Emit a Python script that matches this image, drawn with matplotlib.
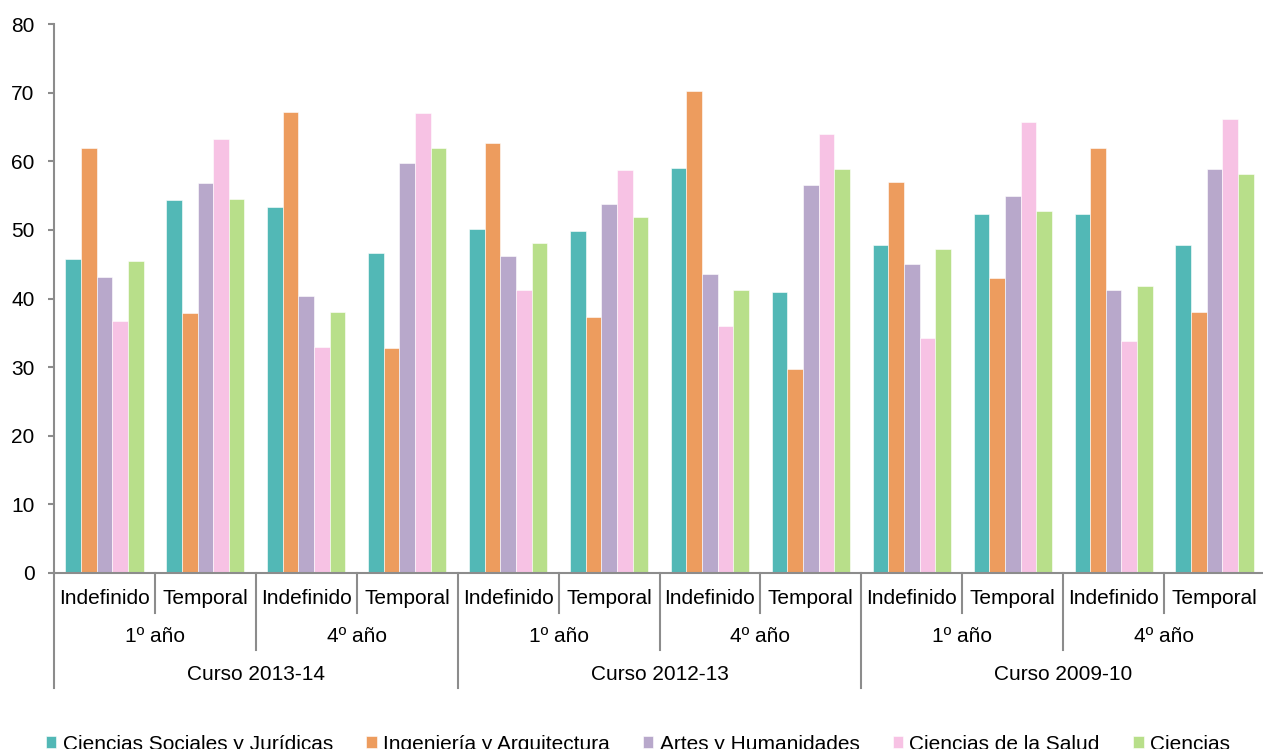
import matplotlib
matplotlib.use("Agg")
import matplotlib.pyplot as plt
import numpy as np

plt.rcParams['font.family'] = ['Liberation Sans', 'DejaVu Sans']
plt.rcParams['font.size'] = 15

# categorias del eje x (tres niveles)
contratos = ["Indefinido", "Temporal"] * 6
anios = ["1º año", "4º año"] * 3
cursos = ["Curso 2013-14", "Curso 2012-13", "Curso 2009-10"]

series = ["Ciencias Sociales y Jurídicas", "Ingeniería y Arquitectura",
          "Artes y Humanidades", "Ciencias de la Salud", "Ciencias"]
colores = ["#52B8B6", "#ED9C5E", "#B8A8CB", "#F7C2E4", "#B8DF8A"]

sociales = [45.8, 54.3, 53.3, 46.7, 50.1, 49.9, 59.0, 41.0, 47.8, 52.3, 52.3, 47.8]
ingenieria = [62.0, 37.9, 67.2, 32.8, 62.7, 37.3, 70.3, 29.7, 57.0, 43.0, 61.9, 38.1]
artes = [43.1, 56.9, 40.4, 59.7, 46.2, 53.8, 43.5, 56.5, 45.0, 55.0, 41.2, 58.8]
salud = [36.7, 63.3, 33.0, 67.0, 41.3, 58.7, 36.0, 64.0, 34.3, 65.7, 33.8, 66.2]
ciencias = [45.5, 54.5, 38.0, 62.0, 48.1, 51.9, 41.2, 58.8, 47.2, 52.8, 41.8, 58.2]
valores = [sociales, ingenieria, artes, salud, ciencias]

fig = plt.figure(figsize=(12.63, 7.49), dpi=100)
ax = fig.add_axes([54 / 1263, 176 / 749, 1211 / 1263, 549 / 749])

x = np.arange(len(contratos))
ancho = 0.155
for i, (nombre, vals) in enumerate(zip(series, valores)):
    ax.bar(x + (i - 2) * ancho, vals, ancho, color=colores[i], label=nombre,
           edgecolor="white", linewidth=0.4)

ax.set_xlim(-0.5, len(contratos) - 0.5)
ax.set_ylim(0, 80)
ax.set_yticks(range(0, 81, 10))
for s in ["top", "right"]:
    ax.spines[s].set_visible(False)
for s in ["left", "bottom"]:
    ax.spines[s].set_color("#8c8c8c")
    ax.spines[s].set_linewidth(1.5)
ax.tick_params(axis="y", direction="out", length=4.5, width=1.5, color="#8c8c8c", pad=9.5)
ax.tick_params(axis="x", length=0, labelbottom=False)

# etiquetas y separadores del eje multinivel
alto = 549.0
trans = ax.get_xaxis_transform()
for i, lab in enumerate(contratos):
    ax.annotate(lab, (i, 0), xycoords=trans, xytext=(0, -25), textcoords="offset pixels",
                ha="center", va="center")
for j, lab in enumerate(anios):
    ax.annotate(lab, (2 * j + 0.5, 0), xycoords=trans, xytext=(0, -64), textcoords="offset pixels",
                ha="center", va="center")
for k, lab in enumerate(cursos):
    ax.annotate(lab, (4 * k + 1.5, 0), xycoords=trans, xytext=(0, -102), textcoords="offset pixels",
                ha="center", va="center")

for b in range(len(contratos)):
    if b % 4 == 0:
        prof = 115
    elif b % 2 == 0:
        prof = 77
    else:
        prof = 40
    ax.plot([b - 0.5, b - 0.5], [0, -prof / alto], transform=trans, clip_on=False,
            color="#8c8c8c", linewidth=1.5)

fig.legend(loc="center", bbox_to_anchor=(0.505, 5 / 749), ncol=5, frameon=False,
           handlelength=0.5, handleheight=0.5, handletextpad=0.3, columnspacing=1.6)

fig.savefig("out.png", dpi=100)
